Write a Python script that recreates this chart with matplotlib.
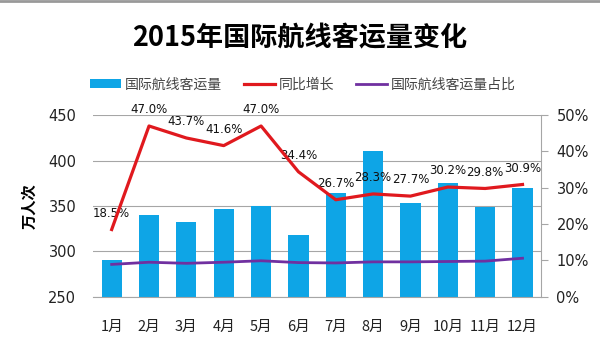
import matplotlib
matplotlib.use("Agg")
import matplotlib.pyplot as plt
import numpy as np

plt.rcParams['font.family'] = ['Noto Sans CJK SC', 'DejaVu Sans']

months = ["1月", "2月", "3月", "4月", "5月", "6月", "7月", "8月", "9月", "10月", "11月", "12月"]
passengers = [290, 340, 332, 347, 350, 318, 364, 410, 353, 375, 349, 370]
growth = [18.5, 47.0, 43.7, 41.6, 47.0, 34.4, 26.7, 28.3, 27.7, 30.2, 29.8, 30.9]
share = [8.9, 9.5, 9.2, 9.5, 9.9, 9.4, 9.3, 9.6, 9.6, 9.7, 9.8, 10.6]

BLUE = "#0EA5E6"
RED = "#E0191E"
PURPLE = "#7030A0"
GRID = "#A6A6A6"

fig = plt.figure(figsize=(6, 3.52), dpi=100)
ax = fig.add_axes([0.155, 0.157, 0.747, 0.516])
ax2 = ax.twinx()

x = np.arange(len(months))
bars = ax.bar(x, passengers, width=0.54, color=BLUE, zorder=2)
ax.set_ylim(250, 450)
ax.set_yticks([250, 300, 350, 400, 450])
ax.set_xlim(-0.5, len(months) - 0.5)
ax.set_xticks(x)
ax.set_xticklabels(months)
ax.yaxis.grid(True, color=GRID, linewidth=0.8, zorder=0)
ax.set_axisbelow(True)
ax.set_ylabel("万人次", fontsize=11, fontweight="bold", labelpad=8)

l1, = ax2.plot(x, growth, color=RED, linewidth=2.3, zorder=4)
l2, = ax2.plot(x, share, color=PURPLE, linewidth=2.0, zorder=4)
ax2.set_ylim(0, 50)
ax2.set_yticks([0, 10, 20, 30, 40, 50])
ax2.set_yticklabels([f"{v}%" for v in range(0, 60, 10)])

for xi, g in zip(x, growth):
    ax2.annotate(f"{g:.1f}%", (xi, g), xytext=(0, 7), textcoords="offset points",
                 ha="center", va="bottom", fontsize=8.5, color="#111111",
                 family=['DejaVu Sans'])

for a in (ax, ax2):
    for s in ("top", "left"):
        a.spines[s].set_visible(False)
    a.spines["bottom"].set_color(GRID)
    a.spines["right"].set_color(GRID)
ax.spines["right"].set_visible(False)
ax2.spines["bottom"].set_visible(False)

ax.tick_params(axis="y", length=0, labelsize=10.5, pad=12, labelcolor="#222222")
ax.tick_params(axis="x", length=0, labelsize=10.5, pad=17, labelcolor="#222222")
ax2.tick_params(axis="y", length=5, color=GRID, labelsize=10.5, pad=6, labelcolor="#222222")

for lbl in ax.get_yticklabels() + ax2.get_yticklabels():
    lbl.set_family(['DejaVu Sans'])

fig.text(0.5, 0.89, "2015年国际航线客运量变化", ha="center", va="center",
         fontsize=19.5, fontweight="bold")

leg = fig.legend([bars, l1, l2], ["国际航线客运量", "同比增长", "国际航线客运量占比"],
                 loc="center", bbox_to_anchor=(0.505, 0.76), ncol=3, frameon=False,
                 fontsize=10, handlelength=2.2, handleheight=0.6, columnspacing=1.6,
                 handletextpad=0.3)
for t in leg.get_texts():
    t.set_color("#444444")

# thin grey frame line along the top edge
fig.add_artist(plt.Line2D([0, 1], [0.996, 0.996], transform=fig.transFigure,
                          color="#999999", linewidth=2))

fig.savefig("out.png", dpi=100)
